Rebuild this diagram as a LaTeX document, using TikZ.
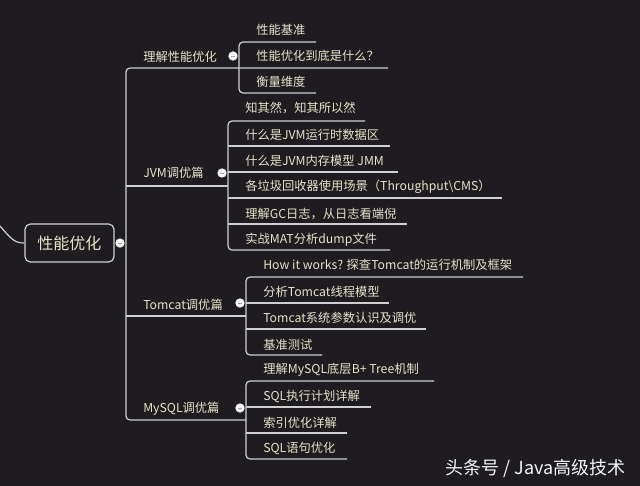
\documentclass[tikz,border=0pt]{standalone}
\usepackage{fontspec}
\setmainfont{Noto Sans CJK SC}
\definecolor{bg}{HTML}{1E1C21}
\definecolor{ln}{HTML}{CFCFCF}
\definecolor{tx}{HTML}{E8E2C8}
\tikzset{
  ln/.style={draw=ln, line width=0.9pt, rounded corners=3pt},
  lbl/.style={anchor=west, inner sep=0pt, text=tx, font=\fontsize{9.2}{10}\selectfont},
  brn/.style={anchor=west, inner sep=0pt, text=tx, font=\fontsize{9.2}{10}\selectfont},
  knob/.style={circle, fill=white!92!gray, minimum size=7pt, inner sep=0pt,
    path picture={\draw[gray!70, line width=0.6pt] ([xshift=-1.8pt]path picture bounding box.center) -- ([xshift=1.8pt]path picture bounding box.center);}},
}
\begin{document}
\begin{tikzpicture}[x=0.75pt,y=-0.75pt]
\fill[bg] (0,0) rectangle (640,486);
\useasboundingbox (0,0) rectangle (640,486);

% root
\node[draw=ln, line width=0.9pt, rounded corners=4pt, minimum width=66.75pt, minimum height=28.5pt, text=tx, font=\fontsize{12}{14}\selectfont, inner sep=0pt] (root) at (69.5,243) {性能优化};
\coordinate (off) at (0,226);
\draw[ln] (off) .. controls (12,240) and (15,243) .. (root.west);
\node[knob] (rk) at (120,243) {};

% trunk
\coordinate (t1) at (126,68);
\coordinate (t4) at (126,420);
\draw[ln] (388,68) -- (t1) -- (t4) -- (246,420);
\draw[ln] (126,186) -- (228,186);
\draw[ln] (126,316) -- (246,316);

% branch 1
\node[brn] (b1) at (143,57) {理解性能优化};
\node[knob] (k1) at (233,56) {};
\draw[ln] (316,42) -- (239,42) -- (239,93) -- (316,93);
\node[lbl] (c11) at (256,30) {性能基准};
\node[lbl] (c12) at (256,56) {性能优化到底是什么？};
\node[lbl] (c13) at (256,82) {衡量维度};

% branch 2
\node[brn] (b2) at (143,173) {JVM调优篇};
\node[knob] (k2) at (222,173) {};
\draw[ln] (365,121) -- (228,121) -- (228,250) -- (390,250);
\draw[ln] (228,146) -- (390,146);
\draw[ln] (228,172) -- (398,172);
\draw[ln] (228,198) -- (502,198);
\draw[ln] (228,224) -- (407,224);
\node[lbl] (c21) at (245,108) {知其然，知其所以然};
\node[lbl] (c22) at (245,135) {什么是JVM运行时数据区};
\node[lbl] (c23) at (245,161) {什么是JVM内存模型 JMM};
\node[lbl] (c24) at (245,187) {各垃圾回收器使用场景（Throughput\textbackslash CMS）};
\node[lbl] (c25) at (245,214) {理解GC日志，从日志看端倪};
\node[lbl] (c26) at (245,240) {实战MAT分析dump文件};

% branch 3
\node[brn] (b3) at (143,305) {Tomcat调优篇};
\node[knob] (k3) at (240,303) {};
\draw[ln] (523,277) -- (246,277) -- (246,355) -- (322,355);
\draw[ln] (246,303) -- (389,303);
\draw[ln] (246,329) -- (426,329);
\node[lbl] (c31) at (263,265) {How it works? 探查Tomcat的运行机制及框架};
\node[lbl] (c32) at (263,292) {分析Tomcat线程模型};
\node[lbl] (c33) at (263,318) {Tomcat系统参数认识及调优};
\node[lbl] (c34) at (263,345) {基准测试};

% branch 4
\node[brn] (b4) at (143,409) {MySQL调优篇};
\node[knob] (k4) at (240,408) {};
\draw[ln] (434,381) -- (246,381) -- (246,459) -- (347,459);
\draw[ln] (246,407) -- (371,407);
\draw[ln] (246,433) -- (347,433);
\node[lbl] (c41) at (263,370) {理解MySQL底层B+ Tree机制};
\node[lbl] (c42) at (263,396) {SQL执行计划详解};
\node[lbl] (c43) at (263,423) {索引优化详解};
\node[lbl] (c44) at (263,448) {SQL语句优化};

% watermark
\node[anchor=west, inner sep=0pt, text=white!92!gray, font=\fontsize{13.5}{15}\selectfont] (wm) at (445,469) {头条号 / Java高级技术};
\end{tikzpicture}
\end{document}
